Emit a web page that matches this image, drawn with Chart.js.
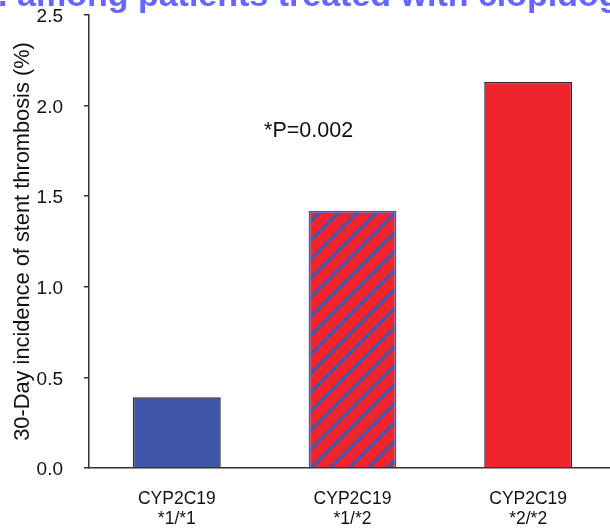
<!DOCTYPE html>
<html>
<head>
<meta charset="utf-8">
<script src="https://cdn.jsdelivr.net/npm/chart.js@4/dist/chart.umd.min.js"></script>
<style>
  html, body { margin: 0; padding: 0; background: #fff; overflow: hidden; }
  canvas { display: block; }
</style>
</head>
<body>
<canvas id="chart" width="616" height="528"></canvas>
<script>
// Genotype groups (two-line category labels) and 30-day stent thrombosis incidence (%)
const genotypes = [['CYP2C19', '*1/*1'], ['CYP2C19', '*1/*2'], ['CYP2C19', '*2/*2']];
const incidence = [0.39, 1.42, 2.13];
const yTicks = [0, 0.5, 1.0, 1.5, 2.0, 2.5];

const yTitle = '30-Day incidence of stent thrombosis (%)';
const panelLead = 'C. ';
const panelText = 'among patients treated with clopidogrel';
const pValueText = '*P=0.002';
// where the P value sits, in axis units (category index, percent)
const pValueAt = { x: 0.75, y: 1.86 };

const FONT = "'Liberation Sans', Arial, Helvetica, sans-serif";
const BLUE = '#3f56a8';
const RED = '#f0242c';
const HATCH = '#4257ad';
const AXIS = '#333333';

const canvas = document.getElementById('chart');
const ctx = canvas.getContext('2d');

// red fill with blue "/" diagonal hatching
function hatchPattern(fill, line) {
  const s = 19;
  const tile = document.createElement('canvas');
  tile.width = s; tile.height = s;
  const g = tile.getContext('2d');
  g.fillStyle = fill;
  g.fillRect(0, 0, s, s);
  g.strokeStyle = line;
  g.lineWidth = 3.2;
  g.beginPath();
  g.moveTo(-2, s + 2); g.lineTo(s + 2, -2);
  g.moveTo(-s / 2 - 2, s / 2 + 2); g.lineTo(s / 2 + 2, -s / 2 - 2);
  g.moveTo(s / 2 - 2, s * 1.5 + 2); g.lineTo(s * 1.5 + 2, s / 2 - 2);
  g.stroke();
  return ctx.createPattern(tile, 'repeat');
}

const overlayText = {
  id: 'overlayText',
  afterDraw(chart) {
    const c = chart.ctx;
    const xs = chart.scales.x, ys = chart.scales.y;
    c.save();
    // P value annotation
    const x0 = xs.getPixelForValue(0), x1 = xs.getPixelForValue(1);
    const px = x0 + (x1 - x0) * pValueAt.x;
    const py = ys.getPixelForValue(pValueAt.y);
    c.font = '21.5px ' + FONT;
    c.fillStyle = '#111';
    c.textAlign = 'center';
    c.textBaseline = 'middle';
    c.fillText(pValueText, px, py);
    // panel heading, running off the top edge
    c.font = 'bold 34px ' + FONT;
    c.fillStyle = '#6666ff';
    c.textAlign = 'left';
    c.textBaseline = 'alphabetic';
    const leadW = c.measureText(panelLead).width;
    c.fillText(panelLead + panelText, 17 - leadW, 6);
    c.restore();
  }
};

new Chart(ctx, {
  type: 'bar',
  data: {
    labels: genotypes,
    datasets: [{
      data: incidence,
      backgroundColor: [BLUE, hatchPattern(RED, HATCH), RED],
      borderColor: ['#2a2a2a', HATCH, '#2a2a2a'],
      borderWidth: [1.5, 2, 1.5],
      borderSkipped: 'bottom',
      barPercentage: 0.5,
      categoryPercentage: 1.0
    }]
  },
  options: {
    responsive: false,
    animation: false,
    devicePixelRatio: 1,
    layout: { padding: 0 },
    plugins: {
      legend: { display: false },
      tooltip: { enabled: false },
      title: { display: false }
    },
    scales: {
      x: {
        type: 'category',
        offset: true,
        grid: { display: true, drawOnChartArea: false, drawTicks: false },
        border: { display: true, color: AXIS, width: 1.5 },
        ticks: {
          color: '#111',
          font: { family: FONT, size: 17.5, lineHeight: 1.15 },
          padding: 21,
          maxRotation: 0,
          autoSkip: false
        },
        afterFit(scale) {
          scale.height = 60;
          scale.paddingLeft = 0;
          scale.paddingRight = 0;
        }
      },
      y: {
        min: 0,
        max: 2.5,
        afterBuildTicks(scale) { scale.ticks = yTicks.map(v => ({ value: v })); },
        grid: { display: true, drawOnChartArea: false, drawTicks: true, tickLength: 5, color: AXIS, lineWidth: 1.5 },
        border: { display: true, color: AXIS, width: 1.5 },
        ticks: {
          color: '#111',
          font: { family: FONT, size: 19 },
          padding: 21,
          labelOffset: 2,
          callback: v => Number(v).toFixed(1)
        },
        title: {
          display: true,
          text: yTitle,
          color: '#111',
          font: { family: FONT, size: 21.8 },
          padding: { top: 10, bottom: 0 }
        },
        afterFit(scale) {
          scale.width = 89;
          scale.paddingTop = 15;
          scale.paddingBottom = 0;
        }
      }
    }
  },
  plugins: [overlayText]
});
</script>
</body>
</html>
